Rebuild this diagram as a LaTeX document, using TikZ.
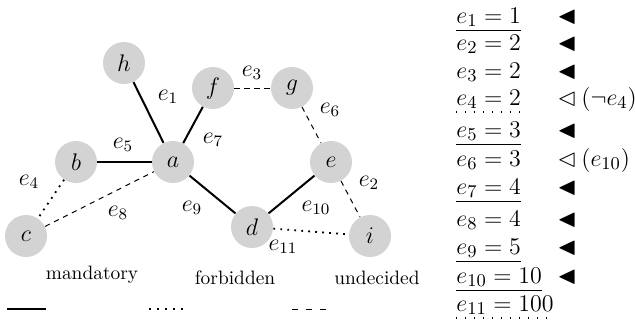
\documentclass[tikz,border=0pt]{standalone}
\usepackage{amssymb}
\definecolor{nodegray}{RGB}{211,211,211}
\begin{document}
\begin{tikzpicture}[x=0.5pt,y=-0.5pt,
  vtx/.style={circle,fill=nodegray,minimum size=21pt,inner sep=0pt,font=\fontsize{12}{14}\selectfont},
  lbl/.style={inner sep=0pt,font=\fontsize{12}{14}\selectfont},
  eq/.style={inner sep=0pt,anchor=base west,font=\fontsize{12.5}{15}\selectfont},
  tri/.style={inner sep=0pt,anchor=west,font=\fontsize{12.5}{15}\selectfont},
  legtext/.style={inner sep=0pt,font=\fontsize{9.7}{12}\selectfont},
  mand/.style={line width=1pt},
  forb/.style={line width=0.9pt,dash pattern=on 0.9pt off 2.6pt},
  undec/.style={line width=0.5pt,dash pattern=on 2.6pt off 2.4pt},
  dotline/.style={line width=0.6pt,dash pattern=on 0.6pt off 3.9pt}
]
\useasboundingbox (0,0) rectangle (635,323);
% vertices
\node[vtx] (h) at (124,63) {$h$};
\node[vtx] (f) at (213,88) {$f$};
\node[vtx] (g) at (292,88) {$g$};
\node[vtx] (b) at (76,162) {$b$};
\node[vtx] (a) at (173,162) {$a$};
\node[vtx] (e) at (331,162) {$e$};
\node[vtx] (c) at (26,236) {$c$};
\node[vtx] (d) at (252,227) {$d$};
\node[vtx] (i) at (370,236) {$i$};
% edges
\draw[mand] (h) -- (a);
\draw[mand] (f) -- (a);
\draw[mand] (b) -- (a);
\draw[mand] (a) -- (d);
\draw[mand] (d) -- (e);
\draw[undec] (f) -- (g);
\draw[undec] (g) -- (e);
\draw[undec] (c) -- (a);
\draw[undec] (e) -- (i);
\draw[forb] (b) -- (c);
\draw[forb] (d) -- (i);
% edge labels
\node[lbl] (l1) at (168,97) {$e_1$};
\node[lbl] (l2) at (369,183) {$e_2$};
\node[lbl] (l3) at (252,73) {$e_3$};
\node[lbl] (l4) at (29,182) {$e_4$};
\node[lbl] (l5) at (123,145) {$e_5$};
\node[lbl] (l6) at (330,110) {$e_6$};
\node[lbl] (l7) at (213,140) {$e_7$};
\node[lbl] (l8) at (118,213) {$e_8$};
\node[lbl] (l9) at (192,208) {$e_9$};
\node[lbl] (l10) at (316,208) {$e_{10}$};
\node[lbl] (l11) at (283,247) {$e_{11}$};
% legend
\node[legtext] (tm) at (92,275) {mandatory};
\node[legtext] (tf) at (235,278) {forbidden};
\node[legtext] (tu) at (377,278) {undecided};
\coordinate (m1) at (7,309); \coordinate (m2) at (46,309);
\coordinate (f1) at (149,309); \coordinate (f2) at (183,309);
\coordinate (u1) at (292,309); \coordinate (u2) at (331,309);
\draw[line width=1.2pt] (m1) -- (m2);
\draw[line width=0.9pt,dash pattern=on 0.9pt off 3.1pt] (f1) -- (f2);
\draw[line width=0.5pt,dash pattern=on 3pt off 4pt] (u1) -- (u2);
% list
\node[eq] (r1) at (456,23) {$\underline{e_1 = 1}$};
\node[eq] (r2) at (456,50) {$e_2 = 2$};
\node[eq] (r3) at (456,78) {$e_3 = 2$};
\node[eq] (r4) at (456,105) {$e_4 = 2$};
\node[eq] (r5) at (456,137) {$\underline{e_5 = 3}$};
\node[eq] (r6) at (456,166) {$e_6 = 3$};
\node[eq] (r7) at (456,194) {$\underline{e_7 = 4}$};
\node[eq] (r8) at (456,226) {$e_8 = 4$};
\node[eq] (r9) at (456,254) {$\underline{e_9 = 5}$};
\node[eq] (r10) at (456,283) {$\underline{e_{10} = 10}$};
\node[eq] (r11) at (456,311) {$e_{11} = 100$};
\draw[dotline] ([yshift=-3.5pt]r4.base west) -- ([yshift=-3.5pt]r4.base east);
\draw[dotline] ([yshift=-3.5pt]r11.base west) -- ([yshift=-3.5pt]r11.base east);
% markers
\node[tri] (k1) at (557,17) {$\blacktriangleleft$};
\node[tri] (k2) at (557,44) {$\blacktriangleleft$};
\node[tri] (k3) at (557,72) {$\blacktriangleleft$};
\node[tri] (k4) at (557,99) {$\lhd$};
\node[tri] (k5) at (557,131) {$\blacktriangleleft$};
\node[tri] (k6) at (557,160) {$\lhd$};
\node[tri] (k7) at (557,188) {$\blacktriangleleft$};
\node[tri] (k8) at (557,220) {$\blacktriangleleft$};
\node[tri] (k9) at (557,248) {$\blacktriangleleft$};
\node[tri] (k10) at (557,277) {$\blacktriangleleft$};
\node[eq] (n4) at (581,105) {$(\neg e_4)$};
\node[eq] (n6) at (581,166) {$(e_{10})$};
\end{tikzpicture}
\end{document}
